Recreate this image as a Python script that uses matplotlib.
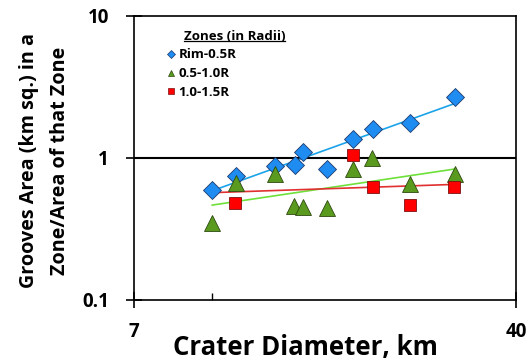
import numpy as np
import matplotlib
matplotlib.use("Agg")
import matplotlib.pyplot as plt
from matplotlib.lines import Line2D
from matplotlib.ticker import FixedLocator, NullFormatter, NullLocator

plt.rcParams['font.family'] = ['Open Sans', 'DejaVu Sans']

# crater diameter (km) and normalised groove area per zone
rim_diam = [10.0, 11.15, 13.3, 14.6, 15.1, 16.9, 19.0, 20.8, 24.7, 30.3]
rim_area = [0.595, 0.747, 0.879, 0.893, 1.097, 0.833, 1.355, 1.608, 1.772, 2.70]

mid_diam = [10.0, 11.15, 13.3, 14.5, 15.1, 16.9, 19.0, 20.7, 24.7, 30.3]
mid_area = [0.35, 0.670, 0.771, 0.459, 0.454, 0.447, 0.841, 0.995, 0.653, 0.768]

out_diam = [11.1, 19.0, 20.8, 24.7, 30.2]
out_area = [0.48, 1.045, 0.628, 0.464, 0.628]

labels = ['Rim-0.5R', '0.5-1.0R', '1.0-1.5R']
legend_title = 'Zones (in Radii)'

fig = plt.figure(figsize=(5.26, 3.6), dpi=100)
ax = fig.add_axes([0.2548, 0.1667, 0.981 - 0.2548, 0.9556 - 0.1667])
ax.set_xscale('log')
ax.set_yscale('log')
ax.set_xlim(7, 40)
ax.set_ylim(0.1, 10)

# power-law trend lines drawn over the rim data range
xfit = np.array([min(rim_diam), max(rim_diam)])
series = [
    (rim_diam, rim_area, 'D', 9, '#1e8cf0', '#1f3a6e', '#1aa3e8'),
    (mid_diam, mid_area, '^', 11, '#5a9a1e', '#2d4a10', '#6ee03a'),
    (out_diam, out_area, 's', 8.5, '#ff0000', '#7a1010', '#e03030'),
]
for xs, ys, mk, ms, fc, ec, lc in series:
    k, b = np.polyfit(np.log10(xs), np.log10(ys), 1)
    ax.plot(xfit, 10 ** (b + k * np.log10(xfit)), color=lc, lw=1.2, zorder=2)

ax.axhline(1, color='black', lw=1.5, zorder=1)

handles = []
for xs, ys, mk, ms, fc, ec, lc in series:
    ax.plot(xs, ys, ls='none', marker=mk, ms=ms, mfc=fc, mec=ec, mew=0.6, zorder=3)
    h, = ax.plot([], [], ls='none', marker=mk, ms=4, mfc=fc, mec=ec, mew=0.5)
    handles.append(h)

leg = ax.legend(handles, labels, loc='upper left', bbox_to_anchor=(0.065, 0.905),
                frameon=False, prop={'weight': 'bold', 'size': 9.5},
                handletextpad=0.1, handlelength=1.0, borderaxespad=0,
                labelspacing=0.45)

# legend title, underlined
t = ax.text(0.13, 0.928, legend_title, transform=ax.transAxes, fontsize=9.5,
            fontweight='bold', va='center', ha='left')

ax.xaxis.set_major_locator(FixedLocator([7, 40]))
ax.xaxis.set_minor_locator(FixedLocator([10]))
ax.xaxis.set_minor_formatter(NullFormatter())
ax.set_xticklabels(['7', '40'], fontweight='bold', fontsize=13.5)
ax.yaxis.set_major_locator(FixedLocator([0.1, 1, 10]))
ax.yaxis.set_minor_locator(NullLocator())
ax.set_yticklabels(['0.1', '1', '10'], fontweight='bold', fontsize=13.5)

ax.tick_params(axis='both', which='major', direction='inout', length=12, width=1.2)
ax.tick_params(axis='x', which='major', pad=10)
ax.tick_params(axis='y', which='major', pad=12)
ax.tick_params(axis='x', which='minor', direction='in', length=5, width=1)

for sp in ax.spines.values():
    sp.set_linewidth(1.2)

ax.set_xlabel('Crater Diameter, km', fontweight='bold', fontsize=18.5)
ax.xaxis.set_label_coords(0.45, -0.12)
ax.set_ylabel('Grooves Area (km sq.) in a\nZone/Area of that Zone', fontweight='bold',
              fontsize=14.2, linespacing=1.75)
ax.yaxis.set_label_coords(-0.168, 0.49)

fig.canvas.draw()
bb = t.get_window_extent().transformed(fig.transFigure.inverted())
fig.add_artist(Line2D([bb.x0, bb.x1], [bb.y0 + 0.006, bb.y0 + 0.006],
                      transform=fig.transFigure, color='black', lw=0.9))

fig.savefig('out.png', dpi=100)
